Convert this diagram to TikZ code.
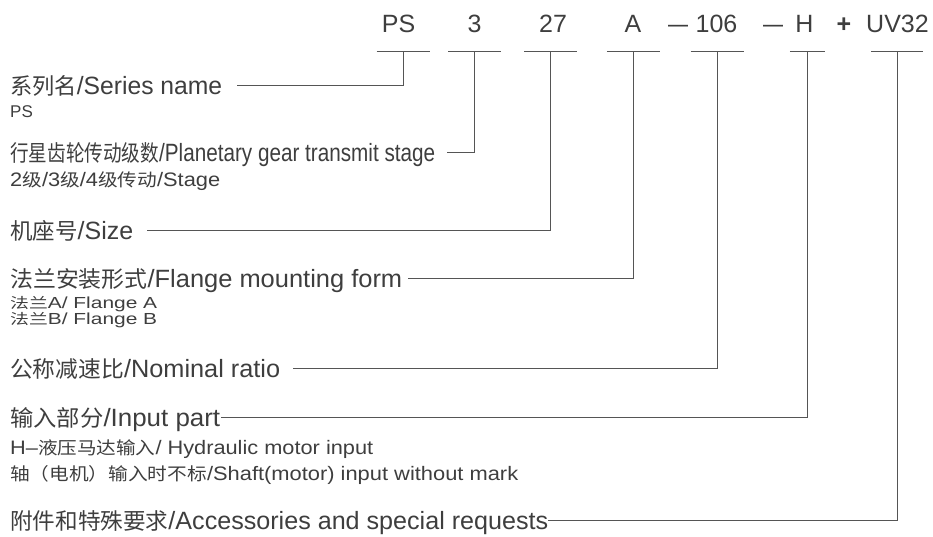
\documentclass[tikz,border=0pt]{standalone}
\usepackage{fontspec}
\usepackage{graphicx}
\setmainfont{Liberation Sans}
\newfontfamily\cjk{Noto Sans CJK SC}[Scale=0.9]
\definecolor{txtgray}{RGB}{62,62,62}
\definecolor{linegray}{RGB}{85,85,85}
% stretch or squeeze a label to a given width, keeping its height
\newcommand{\fitw}[2]{\resizebox{#1}{\height}{#2}}

\begin{document}
\begin{tikzpicture}[
    x=1pt, y=-1pt,
    code/.style={anchor=base, inner sep=0pt, font=\fontsize{25}{30}\selectfont, text=txtgray},
    mainlbl/.style={anchor=west, inner sep=0pt, text height=18pt, text depth=0pt, font=\fontsize{25}{30}\selectfont, text=txtgray},
    sublbl/.style={anchor=base west, inner sep=0pt, font=\fontsize{19.5}{23}\selectfont, text=txtgray},
    conn/.style={draw=linegray, line width=1pt}
]
\useasboundingbox (0,0) rectangle (933,536);

% model code
\node[code] (tPS) at (398.5,32) {PS};
\node[code] (t3) at (474.5,32) {3};
\node[code] (t27) at (553,32) {27};
\node[code] (tA) at (633,32) {A};
\node[code] (dashA) at (678,32) {\fitw{20pt}{—}};
\node[code] (t106) at (716.5,32) {106};
\node[code] (dashB) at (773,32) {\fitw{20pt}{—}};
\node[code] (tH) at (804.5,32) {H};
\node[code, font=\bfseries\fontsize{25}{30}\selectfont] (tPlus) at (844,32) {+};
\node[code] (tUV) at (897.5,32) {UV32};

\coordinate (uPS) at (403,51);
\coordinate (u3) at (474.5,51);
\coordinate (u27) at (550.7,51);
\coordinate (uA) at (633.4,51);
\coordinate (u106) at (717.2,51);
\coordinate (uH) at (807.4,51);
\coordinate (uUV) at (897,51);

\draw[conn] ([xshift=-26.5pt]uPS) -- ([xshift=26.5pt]uPS);
\draw[conn] ([xshift=-26.5pt]u3) -- ([xshift=26.5pt]u3);
\draw[conn] ([xshift=-26.5pt]u27) -- ([xshift=26.5pt]u27);
\draw[conn] ([xshift=-26.5pt]uA) -- ([xshift=26.5pt]uA);
\draw[conn] ([xshift=-26.5pt]u106) -- ([xshift=26.5pt]u106);
\draw[conn] ([xshift=-17.5pt]uH) -- ([xshift=17.5pt]uH);
\draw[conn] ([xshift=-26pt]uUV) -- ([xshift=26pt]uUV);

% labels
\node[mainlbl] (lSeries) at (10,85.5) {\fitw{212pt}{{\cjk 系列名}/Series name}};
\node[sublbl, font=\fontsize{17}{20}\selectfont] (sPS) at (10,117) {PS};
\node[mainlbl] (lStage) at (10,152.5) {\fitw{425pt}{{\cjk 行星齿轮传动级数}/Planetary gear transmit stage}};
\node[sublbl] (sStage) at (10,186) {\fitw{210pt}{2{\cjk 级}/3{\cjk 级}/4{\cjk 级传动}/Stage}};
\node[mainlbl] (lSize) at (10,230) {\fitw{123pt}{{\cjk 机座号}/Size}};
\node[mainlbl] (lFlange) at (10,278) {\fitw{392pt}{{\cjk 法兰安装形式}/Flange mounting form}};
\node[sublbl, font=\fontsize{16}{18}\selectfont] (sFlangeA) at (10,308.5) {\fitw{147pt}{{\cjk 法兰}A/ Flange A}};
\node[sublbl, font=\fontsize{16}{18}\selectfont] (sFlangeB) at (10,324) {\fitw{147pt}{{\cjk 法兰}B/ Flange B}};
\node[mainlbl] (lRatio) at (10,368.5) {\fitw{270pt}{{\cjk 公称减速比}/Nominal ratio}};
\node[mainlbl] (lInput) at (10,417) {\fitw{210pt}{{\cjk 输入部分}/Input part}};
\node[sublbl] (sHydr) at (10,454) {\fitw{363pt}{H–{\cjk 液压马达输入}/ Hydraulic motor input}};
\node[sublbl] (sShaft) at (10,480) {\fitw{508pt}{{\cjk 轴（电机）输入时不标}/Shaft(motor) input without mark}};
\node[mainlbl] (lAcc) at (10,520) {\fitw{538pt}{{\cjk 附件和特殊要求}/Accessories and special requests}};

% leader lines
\draw[conn] (uPS) |- ([xshift=15pt]lSeries.east);
\draw[conn] (u3) |- ([xshift=12pt]lStage.east);
\draw[conn] (u27) |- ([xshift=14pt]lSize.east);
\draw[conn] (uA) |- ([xshift=6pt]lFlange.east);
\draw[conn] (u106) |- ([xshift=13pt]lRatio.east);
\draw[conn] (uH) |- ([xshift=1pt]lInput.east);
\draw[conn] (uUV) |- (lAcc.east);
\end{tikzpicture}
\end{document}
